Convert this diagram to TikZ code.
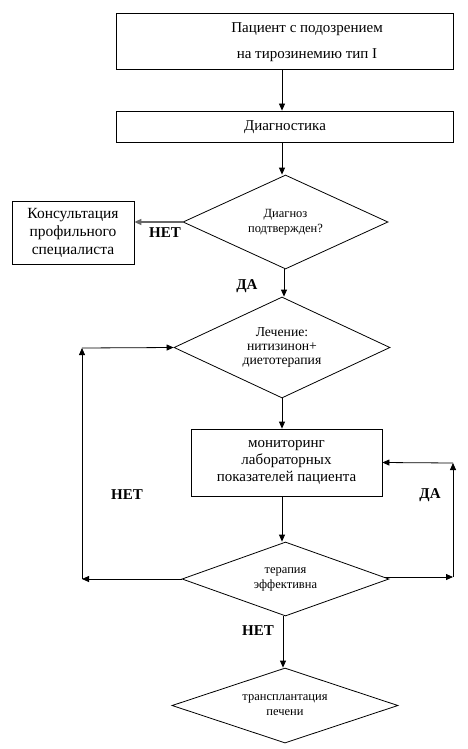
\documentclass[tikz,border=0pt]{standalone}
\usepackage{fontspec}
\setmainfont{Liberation Serif}
\usetikzlibrary{shapes.geometric,arrows.meta}
\begin{document}
\begin{tikzpicture}[x=1pt,y=-1pt,
  box/.style={draw,line width=0.8pt,rectangle,inner sep=0pt},
  dia/.style={draw,line width=0.8pt,diamond,inner sep=0pt,align=center},
  arr/.style={line width=0.8pt,-{Triangle[length=7pt,width=6pt]}},
  lbl/.style={font=\fontsize{15}{17}\selectfont\bfseries},
  big/.style={font=\fontsize{15}{17.5}\selectfont,align=center},
  small/.style={font=\fontsize{12.5}{15}\selectfont,align=center}]
\useasboundingbox[fill=white] (0,0) rectangle (468,749);
% boxes
\node[box,minimum width=337pt,minimum height=56pt] (b1) at (284.5,41) {};
\node[font=\fontsize{15}{26}\selectfont,align=center] (t1) at (307,42) {Пациент с подозрением\\на тирозинемию тип I};
\node[box,minimum width=337pt,minimum height=31pt] (b2) at (284.5,126.5) {};
\node[big] (t2) at (285,127) {Диагностика};
\node[dia,aspect=2.2,minimum width=205pt,minimum height=94pt,small] (d1) at (285.5,222) {Диагноз\\подтвержден?};
\node[box,minimum width=122pt,minimum height=63pt,big,font=\fontsize{15.5}{18}\selectfont] (c1) at (73,232.5) {Консультация\\профильного\\специалиста};
\node[dia,aspect=2.1,minimum width=216pt,minimum height=101pt,font=\fontsize{13.7}{14}\selectfont] (d2) at (282,347.5) {Лечение:\\нитизинон+\\диетотерапия};
\node[box,minimum width=191pt,minimum height=67pt,big,font=\fontsize{15}{17}\selectfont] (b3) at (286.5,462.5) {мониторинг\\лабораторных\\показателей пациента};
\node[dia,aspect=2.8,minimum width=207pt,minimum height=74pt,small] (d3) at (285.5,579) {терапия\\эффективна};
\node[dia,aspect=3,minimum width=226pt,minimum height=75pt,small] (d4) at (285,705.5) {трансплантация\\печени};
% coordinates
\coordinate (L1) at (82,579);
\coordinate (L2) at (82,348);
\coordinate (R0) at (385,577);
\coordinate (R1) at (453,577);
\coordinate (R2) at (453,463);
% connectors
\draw[arr] (b1.south -| 282,0) -- (b2.north -| 282,0);
\draw[arr] (b2.south -| 282,0) -- (d1.north -| 282,0);
\draw[arr,draw=black!60,line width=1.3pt] (d1.west) -- (d1.west -| c1.east);
\draw[arr] (d1.south -| 284,0) -- (d2.north -| 284,0);
\draw[arr] (d2.south -| 282,0) -- (b3.north -| 282,0);
\draw[arr] (b3.south -| 282,0) -- (d3.north -| 282,0);
\draw[arr] (d3.south -| 283,0) -- (d4.north -| 283,0);
\draw[arr] (d3.west) -- (L1);
\draw[arr] (L1) -- (L2);
\draw[arr] (L2) -- (d2.west);
\draw[arr] (R0) -- (R1);
\draw[arr] (R1) -- (R2);
\draw[arr] (R2) -- (b3.east);
% labels
\node[lbl] (n1) at (165,233) {НЕТ};
\node[lbl] (y1) at (247,286) {ДА};
\node[lbl] (n2) at (127,495) {НЕТ};
\node[lbl] (y2) at (430,495) {ДА};
\node[lbl] (n3) at (258,631) {НЕТ};
\end{tikzpicture}
\end{document}
